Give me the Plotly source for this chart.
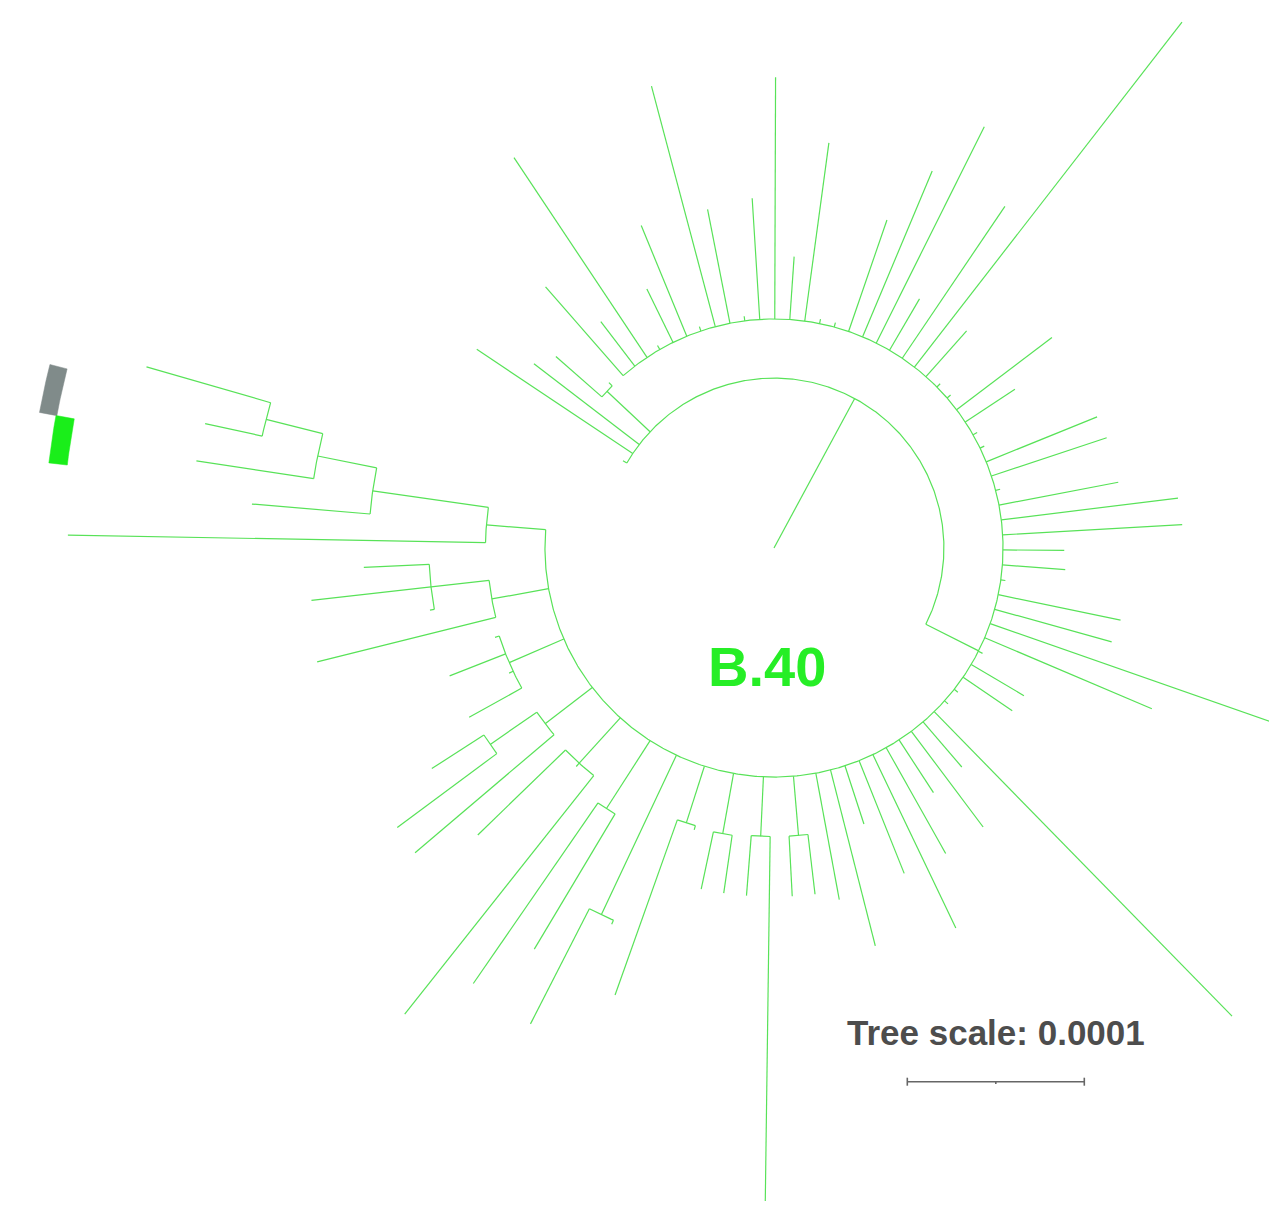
import numpy as np
import plotly.graph_objects as go

# ---------------- data (distances from the root in 1e-5 substitutions/site) ----------------
NODE_NAMES = ["root", "n_in", "main", "A", "B", "C", "D", "E", "F", "G",
              "X", "X2", "W", "Y", "Z", "L4", "L3", "L2", "L1"]
NODE_PARENT = [None, "root", "root", "main", "main", "main", "main", "main", "main", "main",
               "main", "X", "main", "main", "Y", "main", "L4", "L3", "L2"]
NODE_DEPTH = [9.60, 12.94, 12.94, 16.3, 16.3, 16.4, 16.3, 22.9, 17.5, 16.4,
              16.3, 19.5, 16.3, 16.2, 19.5, 16.3, 22.9, 26.3, 29.6]

# leaves in display order (clockwise)
LEAF_PARENT = (["root", "root", "root", "n_in", "n_in"] + ["main"] * 57 +
               ["A", "A", "B", "B", "C", "C", "D", "D", "E", "E", "F", "F",
                "G", "G", "G", "X", "X2", "X2", "W", "W", "W", "W",
                "Y", "Z", "Z", "Z", "L4", "L3", "L2", "L1", "L1"])
LEAF_DEPTH = [9.85, 20.2, 17.1, 16.4, 13.2,
              19.6, 16.1, 26.5, 13.2, 16.3, 19.7, 13.2, 27.0, 19.5, 13.2,
              19.8, 26.6, 16.5, 23.1, 13.2, 13.2, 19.6, 23.1, 26.6, 16.3,
              23.3, 37.6, 16.4, 13.2, 13.2, 19.7, 16.3, 13.2, 13.2, 19.7,
              19.8, 13.2, 19.8, 23.0, 23.1, 16.4, 16.5, 13.2, 20.0, 19.8,
              30.0, 23.2, 13.2, 16.4, 16.3, 13.2, 13.2, 37.0, 16.3, 19.7,
              16.5, 19.8, 23.8, 19.8, 16.4, 23.2, 20.2,
              19.7, 19.7, 36.9, 19.7, 19.7, 19.7, 16.55, 26.8, 23.15, 30.2,
              26.4, 29.9, 33.6, 16.65, 23.3, 26.6, 26.5, 23.0, 19.7, 16.55,
              19.7, 16.55, 26.6, 19.75, 26.3, 23.2, 39.9, 29.6, 33.0, 32.9, 36.9]

# coloured strip boxes attached to two leaves
STRIP_LEAF = [91, 90]
STRIP_R_IN = [41.2, 40.2]
STRIP_R_OUT = [42.2, 41.25]
STRIP_COLOR = ["#808b8a", "#1aee1a"]

CLADE_LABEL = "B.40"
SCALE_LABEL = "Tree scale: 0.0001"
SCALE_LEN = 10.0  # 0.0001 in 1e-5 units

# ---------------- layout parameters ----------------
W, H = 1269, 1206
CX, CY = 774.0, 548.0          # tree centre in page pixels
PX_PER_UNIT = 17.7
ARC_START = 150.0              # degrees of first leaf
ARC_SPAN = 346.1               # degrees between first and last leaf
BRANCH_COLOR = "rgb(88,226,88)"


def px_to_data(px, py):
    return (px - CX) / PX_PER_UNIT, (CY - py) / PX_PER_UNIT


n_leaves = len(LEAF_DEPTH)
step = ARC_SPAN / (n_leaves - 1)
leaf_ang = [ARC_START - i * step for i in range(n_leaves)]
depth = dict(zip(NODE_NAMES, NODE_DEPTH))
parent = dict(zip(NODE_NAMES, NODE_PARENT))

children = {n: [] for n in NODE_NAMES}
for i, p in enumerate(LEAF_PARENT):
    children[p].append(("leaf", i))
for n, p in zip(NODE_NAMES, NODE_PARENT):
    if p is not None:
        children[p].append(("node", n))

node_ang = {}


def angle_of(kind, key):
    if kind == "leaf":
        return leaf_ang[key]
    if key in node_ang:
        return node_ang[key]
    angs = [angle_of(k, c) for k, c in children[key]]
    node_ang[key] = (min(angs) + max(angs)) / 2.0
    return node_ang[key]


for n in NODE_NAMES:
    angle_of("node", n)

xs, ys = [], []


def radial(a, r0, r1):
    t = np.radians(a)
    xs.extend([r0 * np.cos(t), r1 * np.cos(t), None])
    ys.extend([r0 * np.sin(t), r1 * np.sin(t), None])


def arc(r, a0, a1):
    m = max(2, int(abs(a1 - a0) / 0.4) + 2)
    t = np.radians(np.linspace(a0, a1, m))
    xs.extend(list(r * np.cos(t)) + [None])
    ys.extend(list(r * np.sin(t)) + [None])


# root stem
radial(node_ang["root"], 0.0, depth["root"])
for n in NODE_NAMES:
    if parent[n] is not None:
        radial(node_ang[n], depth[parent[n]], depth[n])
    angs = [angle_of(k, c) for k, c in children[n]]
    arc(depth[n], min(angs), max(angs))
for i, p in enumerate(LEAF_PARENT):
    radial(leaf_ang[i], depth[p], LEAF_DEPTH[i])

fig = go.Figure()
fig.add_trace(go.Scatter(x=xs, y=ys, mode="lines",
                         line=dict(color=BRANCH_COLOR, width=1.2),
                         hoverinfo="skip", showlegend=False))

# strip boxes
for lf, r0, r1, col in zip(STRIP_LEAF, STRIP_R_IN, STRIP_R_OUT, STRIP_COLOR):
    a = leaf_ang[lf]
    t = np.radians(np.linspace(a - step / 2, a + step / 2, 12))
    bx = list(r0 * np.cos(t)) + list(r1 * np.cos(t[::-1]))
    by = list(r0 * np.sin(t)) + list(r1 * np.sin(t[::-1]))
    fig.add_trace(go.Scatter(x=bx + [bx[0]], y=by + [by[0]], mode="lines",
                             fill="toself", fillcolor=col,
                             line=dict(color=col, width=0.5),
                             hoverinfo="skip", showlegend=False))

# scale bar
sx0, sy = px_to_data(907.3, 1081.7)
sx1 = sx0 + SCALE_LEN
tk = 4.0 / PX_PER_UNIT
bar_x = [sx0, sx1, None, sx0, sx0, None, sx1, sx1, None, (sx0 + sx1) / 2, (sx0 + sx1) / 2]
bar_y = [sy, sy, None, sy - tk, sy + tk, None, sy - tk, sy + tk, None, sy, sy - tk * 0.6]
fig.add_trace(go.Scatter(x=bar_x, y=bar_y, mode="lines",
                         line=dict(color="#666666", width=1.6),
                         hoverinfo="skip", showlegend=False))

tx, ty = px_to_data(996, 1032)
fig.add_annotation(x=tx, y=ty, text="<b>%s</b>" % SCALE_LABEL, showarrow=False,
                   font=dict(family="Liberation Sans, Arial, sans-serif", size=35, color="#4d4d4d"),
                   xanchor="center", yanchor="middle")
lx, ly = px_to_data(767, 666)
fig.add_annotation(x=lx, y=ly, text="<b>%s</b>" % CLADE_LABEL, showarrow=False,
                   font=dict(family="Liberation Sans, Arial, sans-serif", size=56, color="#26ee26"),
                   xanchor="center", yanchor="middle")

x0, y1 = px_to_data(0, 0)
x1, y0 = px_to_data(W, H)
fig.update_layout(
    width=W, height=H, margin=dict(l=0, r=0, t=0, b=0),
    paper_bgcolor="white", plot_bgcolor="white",
    xaxis=dict(range=[x0, x1], visible=False, fixedrange=True),
    yaxis=dict(range=[y0, y1], visible=False, fixedrange=True),
)

fig.write_html("out.html", config={"displayModeBar": False},
               post_script="document.body.style.margin='0';document.body.style.overflow='hidden';")
